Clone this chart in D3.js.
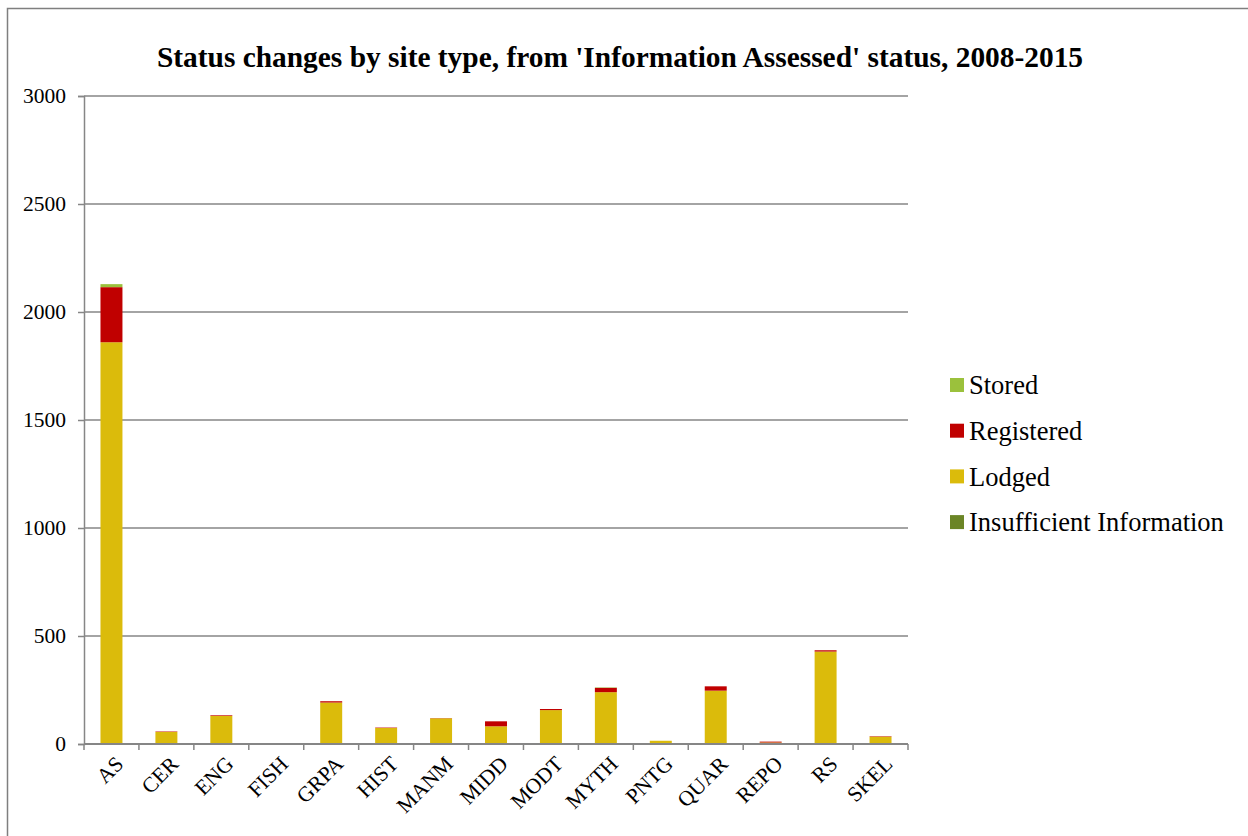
<!DOCTYPE html>
<html>
<head>
<meta charset="utf-8">
<script src="https://cdn.jsdelivr.net/npm/d3@7"></script>
<style>
  html, body { margin: 0; padding: 0; background: #fff; }
  svg { display: block; }
  text { font-family: "Liberation Serif", "Times New Roman", serif; fill: #000; }
</style>
</head>
<body>
<svg id="chart" width="1248" height="836"></svg>
<script>
// Site type codes along the x axis
const siteTypes = ["AS", "CER", "ENG", "FISH", "GRPA", "HIST", "MANM", "MIDD", "MODT", "MYTH", "PNTG", "QUAR", "REPO", "RS", "SKEL"];

// Counts per new status (stacked bottom to top)
const insufficientInfo = [0, 0, 0, 1, 0, 0, 0, 0, 0, 0, 0, 0, 1, 0, 0];
const lodged           = [1860, 56, 130, 2, 192, 74, 119, 82, 157, 240, 15, 247, 6, 428, 34];
const registered       = [255, 2, 3, 0, 6, 2, 1, 23, 5, 20, 0, 20, 4, 6, 2];
const stored           = [14, 0, 0, 0, 0, 0, 0, 0, 0, 2, 0, 0, 0, 0, 0];

const yTicks = [0, 500, 1000, 1500, 2000, 2500, 3000];

const seriesNames  = ["Insufficient Information", "Lodged", "Registered", "Stored"];
const seriesValues = [insufficientInfo, lodged, registered, stored];
const seriesColors = ["#6b8526", "#dbbb0b", "#c00000", "#9bc13c"];

const svg = d3.select("#chart");

// Outer chart frame (runs off the right and bottom edges)
svg.append("path")
  .attr("d", "M7.5,836 L7.5,8.5 L1248,8.5")
  .attr("fill", "none")
  .attr("stroke", "#7f7f7f")
  .attr("stroke-width", 1.5);

const plot = { left: 84, right: 908, top: 96, bottom: 744 };

const x = d3.scaleBand()
  .domain(siteTypes)
  .range([plot.left, plot.right])
  .paddingInner(0.6)
  .paddingOuter(0.3);

const y = d3.scaleLinear()
  .domain([0, 3000])
  .range([plot.bottom, plot.top]);

// Title
svg.append("text")
  .attr("x", 620)
  .attr("y", 67)
  .attr("text-anchor", "middle")
  .style("font-size", "29.4px")
  .style("font-weight", "bold")
  .text("Status changes by site type, from 'Information Assessed' status, 2008-2015");

// Horizontal gridlines
svg.append("g")
  .selectAll("line")
  .data(yTicks.filter(t => t > 0))
  .join("line")
  .attr("x1", plot.left)
  .attr("x2", plot.right)
  .attr("y1", d => y(d))
  .attr("y2", d => y(d))
  .attr("stroke", "#868686")
  .attr("stroke-width", 1.5);

// Stacked bars
const rows = siteTypes.map((s, i) => {
  const r = { site: s };
  seriesNames.forEach((n, k) => { r[n] = seriesValues[k][i]; });
  return r;
});
const stack = d3.stack().keys(seriesNames)(rows);

svg.append("g")
  .selectAll("g")
  .data(stack)
  .join("g")
  .attr("fill", (d, i) => seriesColors[i])
  .selectAll("rect")
  .data(d => d)
  .join("rect")
  .attr("x", d => x(d.data.site))
  .attr("width", x.bandwidth())
  .attr("y", d => y(d[1]))
  .attr("height", d => Math.max(0, y(d[0]) - y(d[1])));

// Y axis
const yAxis = d3.axisLeft(y)
  .tickValues(yTicks)
  .tickSize(6)
  .tickPadding(12)
  .tickFormat(d3.format("d"));

const gy = svg.append("g")
  .attr("transform", `translate(${plot.left},0)`)
  .call(yAxis);
gy.select(".domain").attr("stroke", "#868686").attr("stroke-width", 1.5);
gy.selectAll(".tick line").attr("stroke", "#868686").attr("stroke-width", 1.5);
gy.selectAll(".tick text")
  .style("font-family", "'Liberation Serif', 'Times New Roman', serif")
  .style("font-size", "21.5px")
  .attr("fill", "#000");

// X axis: ticks between categories
const gx = svg.append("g");
gx.append("line")
  .attr("x1", plot.left).attr("x2", plot.right)
  .attr("y1", plot.bottom).attr("y2", plot.bottom)
  .attr("stroke", "#868686").attr("stroke-width", 2);

const boundaries = d3.range(siteTypes.length + 1).map(i => plot.left + i * (plot.right - plot.left) / siteTypes.length);
gx.selectAll("line.tk")
  .data(boundaries)
  .join("line")
  .attr("class", "tk")
  .attr("x1", d => d).attr("x2", d => d)
  .attr("y1", plot.bottom).attr("y2", plot.bottom + 6)
  .attr("stroke", "#868686").attr("stroke-width", 1.5);

gx.selectAll("text")
  .data(siteTypes)
  .join("text")
  .attr("transform", d => `translate(${x(d) + x.bandwidth() / 2 + 8},${plot.bottom + 16}) rotate(-45)`)
  .attr("text-anchor", "end")
  .attr("dy", "0.35em")
  .style("font-size", "21.5px")
  .text(d => d);

// Legend (top entry = top of stack)
const legendItems = seriesNames.map((n, i) => ({ name: n, color: seriesColors[i] })).reverse();
const legend = svg.append("g").attr("transform", "translate(950,385)");
const lg = legend.selectAll("g")
  .data(legendItems)
  .join("g")
  .attr("transform", (d, i) => `translate(0,${i * 45.7})`);
lg.append("rect")
  .attr("x", 0).attr("y", -7)
  .attr("width", 14).attr("height", 14)
  .attr("fill", d => d.color);
lg.append("text")
  .attr("x", 19)
  .attr("y", 0)
  .attr("dy", "0.35em")
  .style("font-size", "26.5px")
  .text(d => d.name);
</script>
</body>
</html>
